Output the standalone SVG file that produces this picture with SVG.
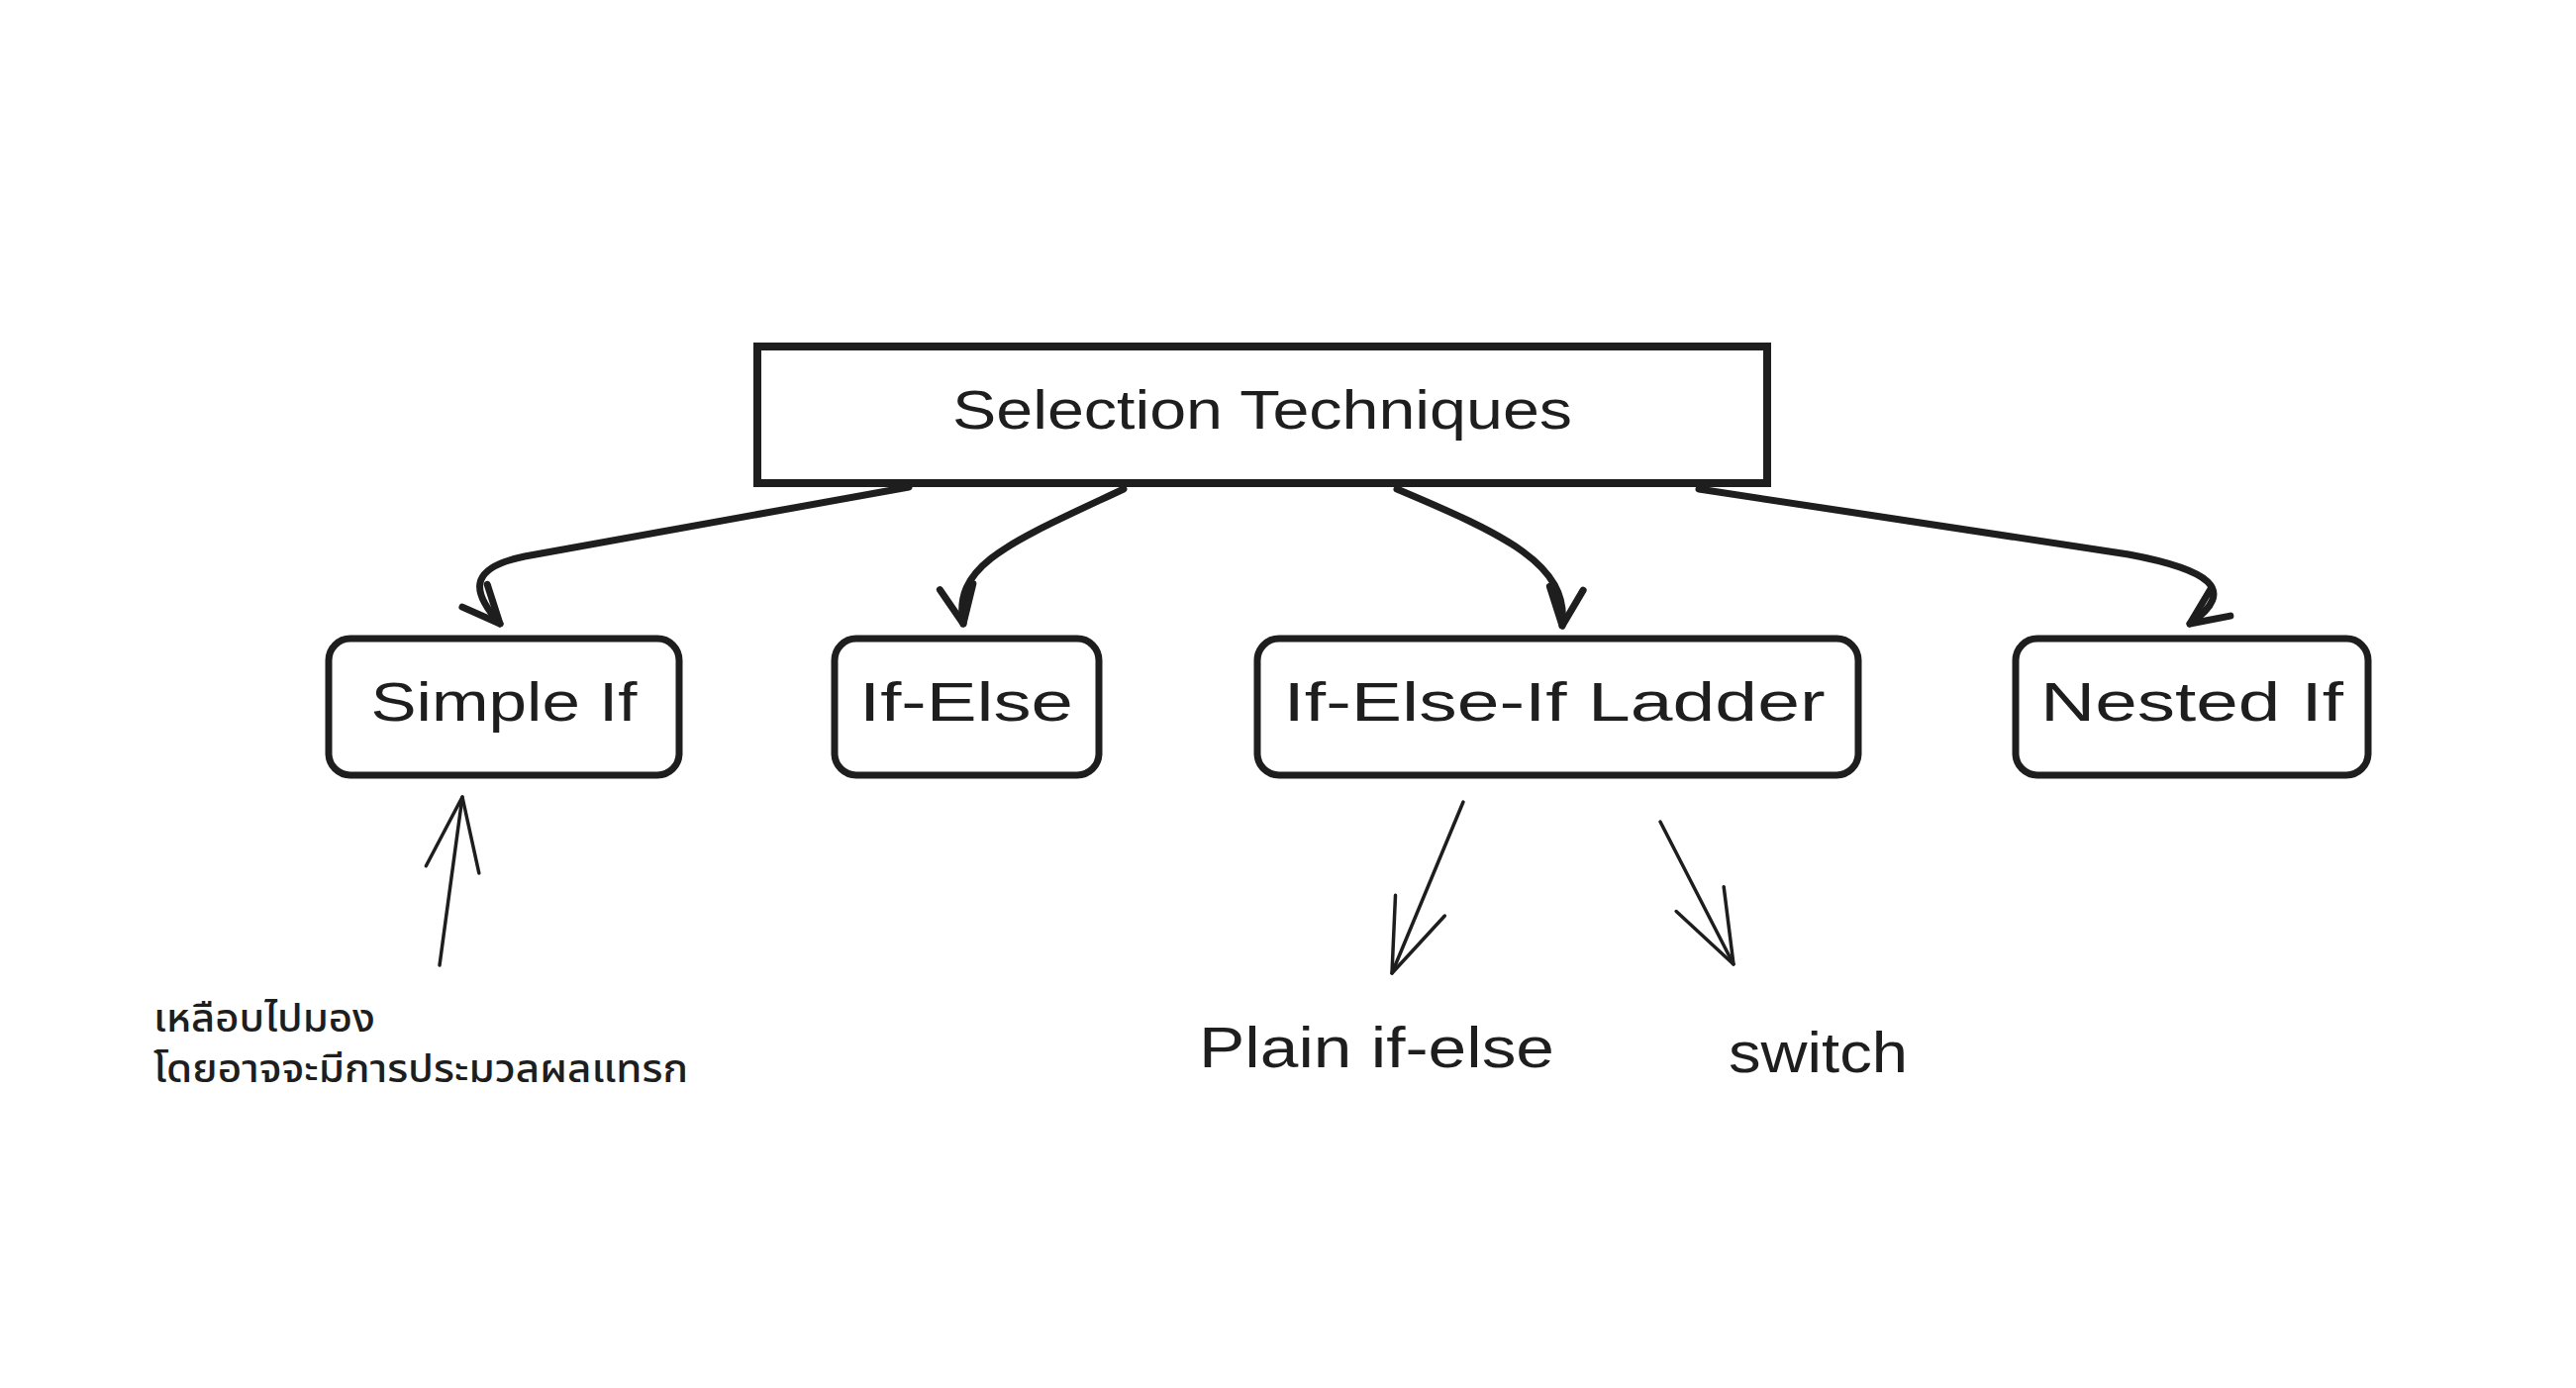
<svg xmlns="http://www.w3.org/2000/svg" width="2602" height="1402" viewBox="0 0 2602 1402">
  <defs>
    <style>
      .box { fill: #ffffff; stroke: #1e1e1e; stroke-width: 7; stroke-linejoin: round; }
      .main { fill: #ffffff; stroke: #1e1e1e; stroke-width: 8; stroke-linejoin: miter; }
      .lbl { font-family: "Liberation Sans", "Open Sans", sans-serif; font-size: 56px; fill: #1e1e1e; text-anchor: middle; }
      .free { font-family: "Liberation Sans", "Open Sans", sans-serif; font-size: 58px; fill: #1e1e1e; }
      .thai { font-family: "Noto Sans Thai", "Noto Sans", "DejaVu Sans", sans-serif; font-size: 39px; font-weight: 500; fill: #1e1e1e; }
      .thick { fill: none; stroke: #1e1e1e; stroke-width: 7; stroke-linecap: round; stroke-linejoin: round; }
      .thin { fill: none; stroke: #1e1e1e; stroke-width: 3.5; stroke-linecap: round; stroke-linejoin: round; }
    </style>
    <marker id="headThick" markerUnits="userSpaceOnUse" viewBox="-48 -26 56 52" refX="0" refY="0" markerWidth="56" markerHeight="52" orient="auto">
      <path d="M -38 -17 L 0 0 L -38 17" fill="none" stroke="#1e1e1e" stroke-width="7" stroke-linecap="round" stroke-linejoin="round"/>
    </marker>
    <marker id="headThin" markerUnits="userSpaceOnUse" viewBox="-80 -35 88 70" refX="0" refY="0" markerWidth="88" markerHeight="70" orient="auto">
      <path d="M -74 -27 L 0 0 L -74 27" fill="none" stroke="#1e1e1e" stroke-width="3.5" stroke-linecap="round" stroke-linejoin="round"/>
    </marker>
  </defs>

  <rect width="2602" height="1402" fill="#ffffff"/>

  <g id="connectors">
    <path class="thick" d="M 918 492 L 530 562 C 470 574 478 600 505 630" marker-end="url(#headThick)"/>
    <path class="thick" d="M 1135 494 C 1020 548 962 570 973 630" marker-end="url(#headThick)"/>
    <path class="thick" d="M 1411 494 C 1520 540 1585 570 1578 632" marker-end="url(#headThick)"/>
    <path class="thick" d="M 1716 494 L 2150 560 C 2230 575 2262 595 2212 630" marker-end="url(#headThick)"/>
    <path class="thin" d="M 444 975 L 467 805" marker-end="url(#headThin)"/>
    <path class="thin" d="M 1478 810 L 1406 983" marker-end="url(#headThin)"/>
    <path class="thin" d="M 1677 830 L 1751 974" marker-end="url(#headThin)"/>
  </g>

  <g id="node-selection-techniques">
    <rect class="main" x="765" y="350" width="1020" height="138"/>
    <text class="lbl" x="1275" y="433" textLength="626" lengthAdjust="spacingAndGlyphs">Selection Techniques</text>
  </g>

  <g id="node-simple-if">
    <rect class="box" x="332" y="645" width="354" height="138" rx="22" ry="22"/>
    <text class="lbl" x="509" y="728" textLength="269" lengthAdjust="spacingAndGlyphs">Simple If</text>
  </g>

  <g id="node-if-else">
    <rect class="box" x="843" y="645" width="267" height="138" rx="22" ry="22"/>
    <text class="lbl" x="976" y="728" textLength="216" lengthAdjust="spacingAndGlyphs">If-Else</text>
  </g>

  <g id="node-if-else-if-ladder">
    <rect class="box" x="1270" y="645" width="607" height="138" rx="22" ry="22"/>
    <text class="lbl" x="1570" y="728" textLength="547" lengthAdjust="spacingAndGlyphs">If-Else-If Ladder</text>
  </g>

  <g id="node-nested-if">
    <rect class="box" x="2036" y="645" width="356" height="138" rx="22" ry="22"/>
    <text class="lbl" x="2214" y="728" textLength="306" lengthAdjust="spacingAndGlyphs">Nested If</text>
  </g>

  <g id="note-thai">
    <text class="thai" x="155" y="1042" textLength="224" lengthAdjust="spacingAndGlyphs">เหลือบไปมอง</text>
    <text class="thai" x="155" y="1093" textLength="540" lengthAdjust="spacingAndGlyphs">โดยอาจจะมีการประมวลผลแทรก</text>
  </g>

  <g id="text-plain-if-else">
    <text class="free" x="1211" y="1078" textLength="359" lengthAdjust="spacingAndGlyphs">Plain if-else</text>
  </g>

  <g id="text-switch">
    <text class="free" x="1746" y="1083" textLength="181" lengthAdjust="spacingAndGlyphs">switch</text>
  </g>
</svg>
